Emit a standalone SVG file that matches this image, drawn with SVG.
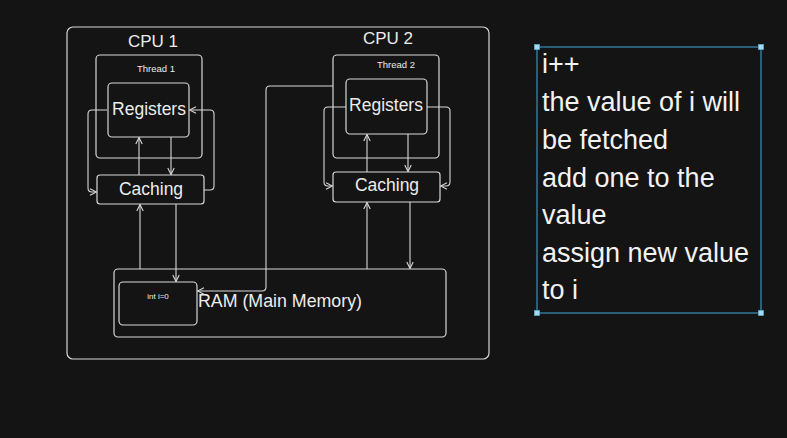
<svg xmlns="http://www.w3.org/2000/svg" width="787" height="438" viewBox="0 0 787 438">
<defs>
<marker id="ah" viewBox="0 0 8 8" refX="7.5" refY="4" markerWidth="8" markerHeight="8" markerUnits="userSpaceOnUse" orient="auto">
<path d="M1,0.8 L7.5,4 L1,7.2" fill="none" stroke="#d8d8d8" stroke-width="1.1"/>
</marker>
<style>
.b{fill:none;stroke:#d8d8d8;stroke-width:1.2}
.c{fill:none;stroke:#d8d8d8;stroke-width:1.1;marker-end:url(#ah)}
.t{font-family:"Liberation Sans",Arial,sans-serif;fill:#ececec;text-anchor:middle}
.n{font-family:"Liberation Sans",Arial,sans-serif;fill:#f2f2f2;font-size:27px}
.h{fill:#a9d9ee;stroke:#5aaad0;stroke-width:0.8}
</style>
</defs>
<rect width="787" height="438" fill="#141414"/>
<g id="system">
<rect class="b" x="67" y="27" width="422" height="332" rx="6"/>
</g>
<g id="cpu1">
<text class="t" x="153" y="47" font-size="17">CPU 1</text>
</g>
<g id="cpu2">
<text class="t" x="388" y="44" font-size="17">CPU 2</text>
</g>
<g id="thread1">
<rect class="b" x="96" y="55" width="106" height="103" rx="4"/>
<text class="t" x="156" y="72" font-size="9.5">Thread 1</text>
</g>
<g id="registers1">
<rect class="b" x="108" y="83" width="81" height="54" rx="4"/>
<text class="t" x="149" y="115" font-size="17.5">Registers</text>
</g>
<g id="caching1">
<rect class="b" x="97" y="175" width="107" height="29" rx="3"/>
<text class="t" x="151" y="195" font-size="17.5">Caching</text>
</g>
<g id="thread2">
<rect class="b" x="333" y="55" width="106" height="103" rx="4"/>
<text class="t" x="396" y="68" font-size="9.5">Thread 2</text>
</g>
<g id="registers2">
<rect class="b" x="346" y="79" width="81" height="55" rx="4"/>
<text class="t" x="386" y="111" font-size="17.5">Registers</text>
</g>
<g id="caching2">
<rect class="b" x="333" y="172" width="107" height="30" rx="3"/>
<text class="t" x="387" y="191" font-size="17.5">Caching</text>
</g>
<g id="ram">
<rect class="b" x="114" y="269" width="332" height="68" rx="4"/>
<text class="t" x="280" y="307" font-size="17.8">RAM (Main Memory)</text>
</g>
<g id="int-i">
<rect class="b" x="119" y="282" width="78" height="43" rx="4"/>
<text class="t" x="158" y="299" font-size="8">int i=0</text>
</g>
<g id="connectors">
<path class="c" d="M139,175 V137.5"/>
<path class="c" d="M171,137 V174.5"/>
<path class="c" d="M107,110 H92 Q88,110 88,114 V188 Q88,192 92,192 H96.5"/>
<path class="c" d="M204,190 H210 Q214,190 214,186 V114 Q214,110 210,110 H189.5"/>
<path class="c" d="M140,269 V204.5"/>
<path class="c" d="M176,204 V281.5"/>
<path class="c" d="M367,172 V134.5"/>
<path class="c" d="M408,134 V171.5"/>
<path class="c" d="M346,107 H328 Q324,107 324,111 V182 Q324,186 328,186 H332.5"/>
<path class="c" d="M427,107 H446 Q450,107 450,111 V182 Q450,186 446,186 H440.5"/>
<path class="c" d="M367,269 V202.5"/>
<path class="c" d="M410,202 V268.5"/>
<path class="c" d="M333,86 H270 Q266,86 266,90 V287 Q266,291 262,291 H197.5"/>
</g>
<g id="note">
<rect x="537" y="47" width="224" height="266" fill="none" stroke="#3d8fba" stroke-width="1.2"/>
<rect class="h" x="534.5" y="44.5" width="5" height="5"/>
<rect class="h" x="758.5" y="44.5" width="5" height="5"/>
<rect class="h" x="534.5" y="310.5" width="5" height="5"/>
<rect class="h" x="758.5" y="310.5" width="5" height="5"/>
<text class="n" x="542" y="73">i++</text>
<text class="n" x="542" y="111">the value of i will</text>
<text class="n" x="542" y="149">be fetched</text>
<text class="n" x="542" y="187">add one to the</text>
<text class="n" x="542" y="224">value</text>
<text class="n" x="542" y="262">assign new value</text>
<text class="n" x="542" y="299">to i</text>
</g>
</svg>
